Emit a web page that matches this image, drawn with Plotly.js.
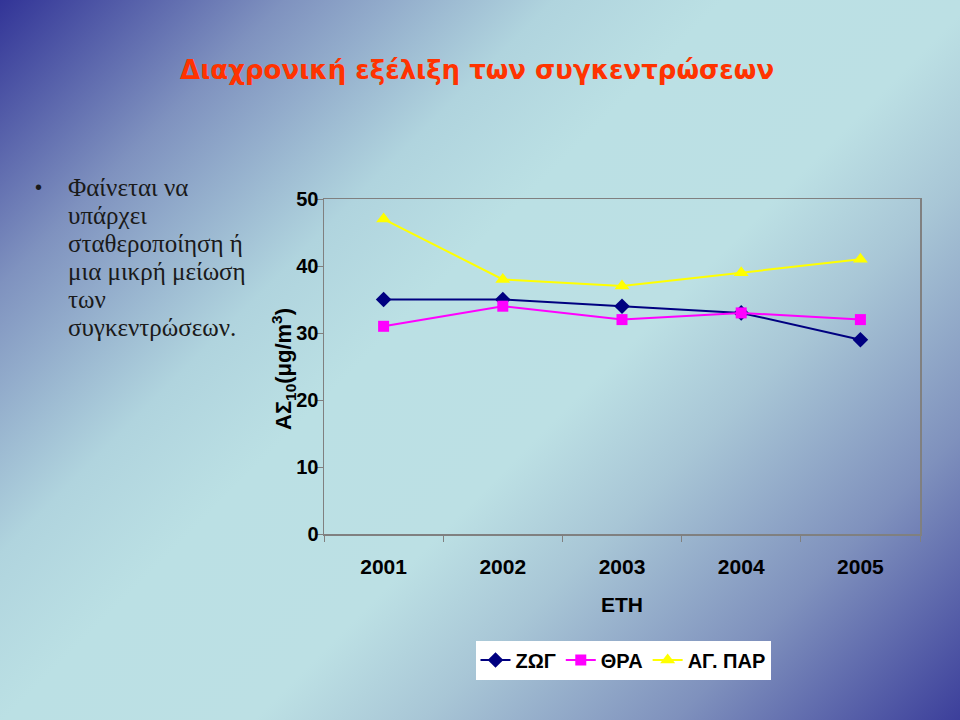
<!DOCTYPE html>
<html>
<head>
<meta charset="utf-8">
<script src="https://cdn.plot.ly/plotly-3.0.1.min.js"></script>
<style>
  html, body { margin: 0; padding: 0; }
  body {
    width: 960px; height: 720px; overflow: hidden;
    background: linear-gradient(135deg, #323497 0%, #7f92bf 17%, #b0d4de 33%, #bbe0e4 43%, #bce0e4 58%, #a8c6d6 68%, #7f91bd 83%, #3c3f9b 100%);
  }
  #chart { width: 960px; height: 720px; }
</style>
</head>
<body>
<div id="chart"></div>
<script>
// years on the x axis and the three stations
const years = ['2001', '2002', '2003', '2004', '2005'];
const zog = [35, 35, 34, 33, 29];
const thra = [31, 34, 32, 33, 32];
const agpar = [47, 38, 37, 39, 41];
const bulletLines = [
    'Φαίνεται να',
    'υπάρχει',
    'σταθεροποίηση ή',
    'μια μικρή μείωση',
    'των',
    'συγκεντρώσεων.'
];

const sans = 'Liberation Sans, Arial, sans-serif';
const tickFontY = { family: sans, size: 20, color: '#000000', weight: 'bold' };
const tickFontX = { family: sans, size: 21, color: '#000000', weight: 'bold' };

// plot area in pixels, used to place the free texts
const L = 324, R = 920, T = 199, B = 534;
const px = (x) => (x - L) / (R - L);
const py = (y) => (B - y) / (B - T);

const data = [
    {
        x: years, y: zog, name: 'ΖΩΓ', type: 'scatter', mode: 'lines+markers',
        line: { color: '#000080', width: 2 },
        marker: { symbol: 'diamond', size: 12, color: '#000080' }
    },
    {
        x: years, y: thra, name: 'ΘΡΑ', type: 'scatter', mode: 'lines+markers',
        line: { color: '#ff00ff', width: 2 },
        marker: { symbol: 'square', size: 11, color: '#ff00ff' }
    },
    {
        x: years, y: agpar, name: 'ΑΓ. ΠΑΡ', type: 'scatter', mode: 'lines+markers',
        line: { color: '#ffff00', width: 2 },
        marker: { symbol: 'triangle-up', size: 13, color: '#ffff00' }
    }
];

const annotations = bulletLines.map((line, i) => ({
    text: line, xref: 'paper', yref: 'paper',
    x: px(66), y: py(187 + 28 * i),
    xanchor: 'left', yanchor: 'middle', align: 'left', showarrow: false,
    font: { family: 'Liberation Serif, Times New Roman, serif', size: 25, color: '#1a1a1a' }
}));
annotations.push({
    text: '•', xref: 'paper', yref: 'paper',
    x: px(38), y: py(187),
    xanchor: 'center', yanchor: 'middle', showarrow: false,
    font: { family: sans, size: 20, color: '#1a1a1a' }
});
annotations.push({
    text: 'ΑΣ<sub>10</sub>(μg/m<sup>3</sup>)', xref: 'paper', yref: 'paper',
    x: px(283), y: py(369), textangle: -90,
    xanchor: 'center', yanchor: 'middle', showarrow: false,
    font: { family: sans, size: 22, color: '#000000', weight: 'bold' }
});

const layout = {
    width: 960,
    height: 720,
    margin: { l: L, r: 960 - R, t: T, b: 720 - B },
    paper_bgcolor: 'rgba(0,0,0,0)',
    plot_bgcolor: 'rgba(0,0,0,0)',
    title: {
        text: 'Διαχρονική εξέλιξη των συγκεντρώσεων',
        font: { family: 'DejaVu Sans, Verdana, sans-serif', size: 26, color: '#ff3300', weight: 'bold' },
        x: 0.497, xanchor: 'center',
        yref: 'container', y: 0.903, yanchor: 'middle'
    },
    xaxis: {
        type: 'category',
        range: [-0.5, 4.5],
        tickson: 'boundaries',
        ticks: 'outside', ticklen: 6, tickcolor: '#808080',
        showline: true, linecolor: '#808080', linewidth: 1.5, mirror: true,
        showgrid: false, zeroline: false,
        tickfont: tickFontX,
        ticklabelstandoff: 13,
        title: { text: 'ΕΤΗ', font: tickFontX, standoff: 20 },
        automargin: false
    },
    yaxis: {
        range: [0, 50], dtick: 10,
        ticks: 'outside', ticklen: 6, tickcolor: '#808080',
        showline: true, linecolor: '#808080', linewidth: 1.5, mirror: true,
        showgrid: false, zeroline: false,
        tickfont: tickFontY,
        ticklabelstandoff: -6,
        automargin: false
    },
    showlegend: true,
    legend: {
        orientation: 'h',
        x: px(623), xanchor: 'center',
        y: py(660), yanchor: 'middle',
        bgcolor: '#ffffff',
        font: tickFontY,
        itemwidth: 30,
        tracegroupgap: 0
    },
    annotations: annotations
};

Plotly.newPlot('chart', data, layout, { displayModeBar: false, staticPlot: true });
</script>
</body>
</html>
